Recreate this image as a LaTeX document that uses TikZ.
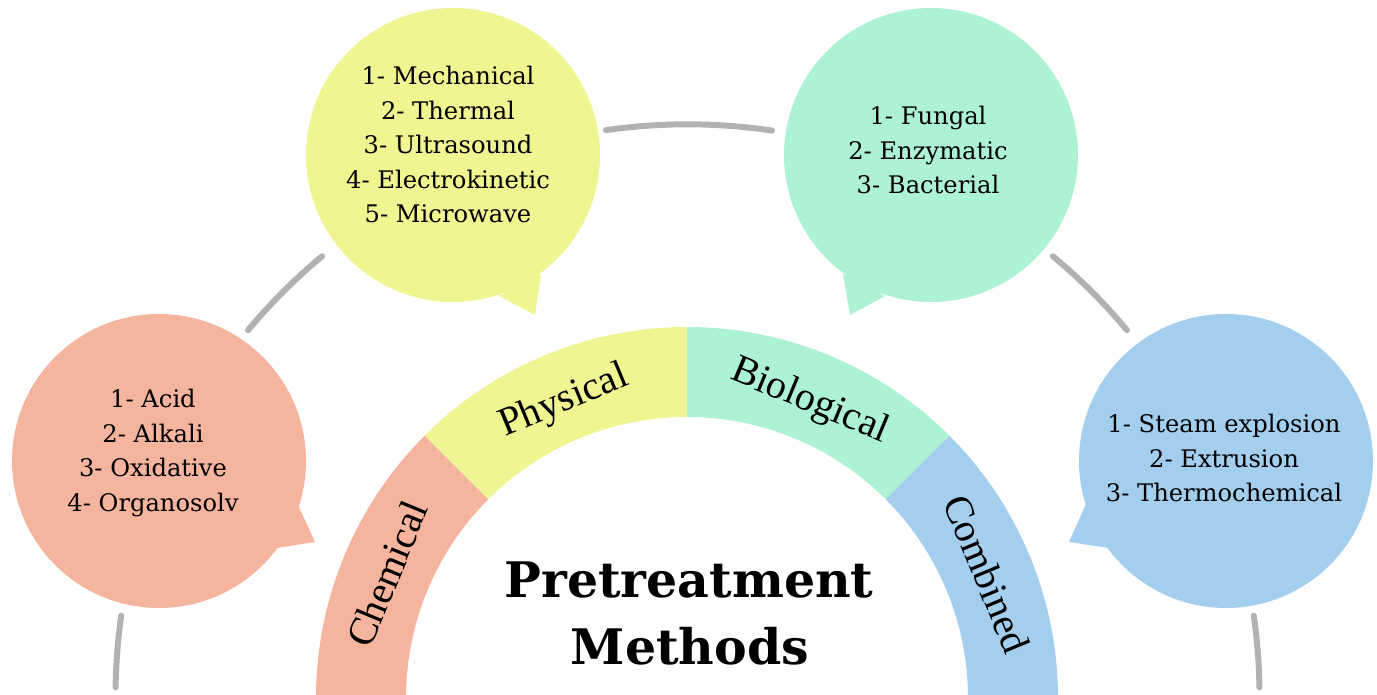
\documentclass[tikz,border=0pt]{standalone}
\usepackage{fontspec}
\setmainfont{DejaVu Serif}
\newfontfamily\labelfont{Liberation Serif}
\definecolor{cchem}{RGB}{245,180,157}
\definecolor{cphys}{RGB}{240,245,145}
\definecolor{cbio}{RGB}{174,242,212}
\definecolor{ccomb}{RGB}{164,206,238}
\definecolor{cgrey}{RGB}{178,178,178}
\begin{document}
\begin{tikzpicture}[x=1pt,y=1pt,
  bubble/.style={circle, inner sep=0pt, minimum size=294pt, draw=none},
  listtext/.style={align=center, inner sep=0pt, anchor=base, font=\fontsize{24.2}{34.5}\selectfont},
  titletext/.style={inner sep=0pt, anchor=base, font=\fontsize{49}{60}\selectfont\bfseries},
  ringarc/.style={draw=cgrey, line width=6pt, line cap=round},
  bandlabel/.style={inner sep=0pt, anchor=base, font=\labelfont\fontsize{40}{48}\selectfont}
]
\useasboundingbox (0,0) rectangle (1377,695);
\coordinate (C) at (687,-3);
\coordinate (G) at (687.5,-1.3);

% outer grey ring segments
\draw[ringarc] ([shift={(171.9:572)}]G) arc[start angle=171.9, end angle=179.1, radius=572];
\draw[ringarc] ([shift={(129.7:572)}]G) arc[start angle=129.7, end angle=140.2, radius=572];
\draw[ringarc] ([shift={(81.5:572)}]G) arc[start angle=81.5, end angle=98.2, radius=572];
\draw[ringarc] ([shift={(39.8:572)}]G) arc[start angle=39.8, end angle=50.3, radius=572];
\draw[ringarc] ([shift={(0.9:572)}]G) arc[start angle=0.9, end angle=8.1, radius=572];

% central band
\fill[cchem] ([shift={(181:371)}]C) arc[start angle=181, end angle=135, radius=371] -- ([shift={(135:281)}]C) arc[start angle=135, end angle=181, radius=281] -- cycle;
\fill[cphys] ([shift={(135:371)}]C) arc[start angle=135, end angle=90, radius=371] -- ([shift={(90:281)}]C) arc[start angle=90, end angle=135, radius=281] -- cycle;
\fill[cbio] ([shift={(90:371)}]C) arc[start angle=90, end angle=45, radius=371] -- ([shift={(45:281)}]C) arc[start angle=45, end angle=90, radius=281] -- cycle;
\fill[ccomb] ([shift={(45:371)}]C) arc[start angle=45, end angle=-1, radius=371] -- ([shift={(-1:281)}]C) arc[start angle=-1, end angle=45, radius=281] -- cycle;

\node[bandlabel, rotate=67.5] (lchem) at ([shift={(157.5:311)}]C) {Chemical};
\node[bandlabel, rotate=22.5] (lphys) at ([shift={(112.5:311)}]C) {Physical};
\node[bandlabel, rotate=-22.5] (lbio) at ([shift={(67.5:311)}]C) {Biological};
\node[bandlabel, rotate=-67.5] (lcomb) at ([shift={(22.5:311)}]C) {Combined};

\node[titletext] (t1) at (689,97) {Pretreatment};
\node[titletext] (t2) at (690,30) {Methods};

% speech bubbles
\node[bubble, fill=cchem] (chem) at (159,234) {};
\fill[cchem] (298,190) -- (315,153) -- (277,147) -- cycle;
\node[bubble, fill=cphys] (phys) at (453,540) {};
\fill[cphys] (541,421) -- (535,380) -- (499,399) -- cycle;
\node[bubble, fill=cbio] (bio) at (931,540) {};
\fill[cbio] (843,421) -- (850,380) -- (885,399) -- cycle;
\node[bubble, fill=ccomb] (comb) at (1226,234) {};
\fill[ccomb] (1086,191) -- (1069,153) -- (1109,147) -- cycle;

\node[listtext] (chemlist) at (153,183.5) {1- Acid\\2- Alkali\\3- Oxidative\\4- Organosolv};
\node[listtext] (physlist) at (448,472) {1- Mechanical\\2- Thermal\\3- Ultrasound\\4- Electrokinetic\\5- Microwave};
\node[listtext] (biolist) at (928,501) {1- Fungal\\2- Enzymatic\\3- Bacterial};
\node[listtext] (comblist) at (1224,193) {1- Steam explosion\\2- Extrusion\\3- Thermochemical};
\end{tikzpicture}
\end{document}
